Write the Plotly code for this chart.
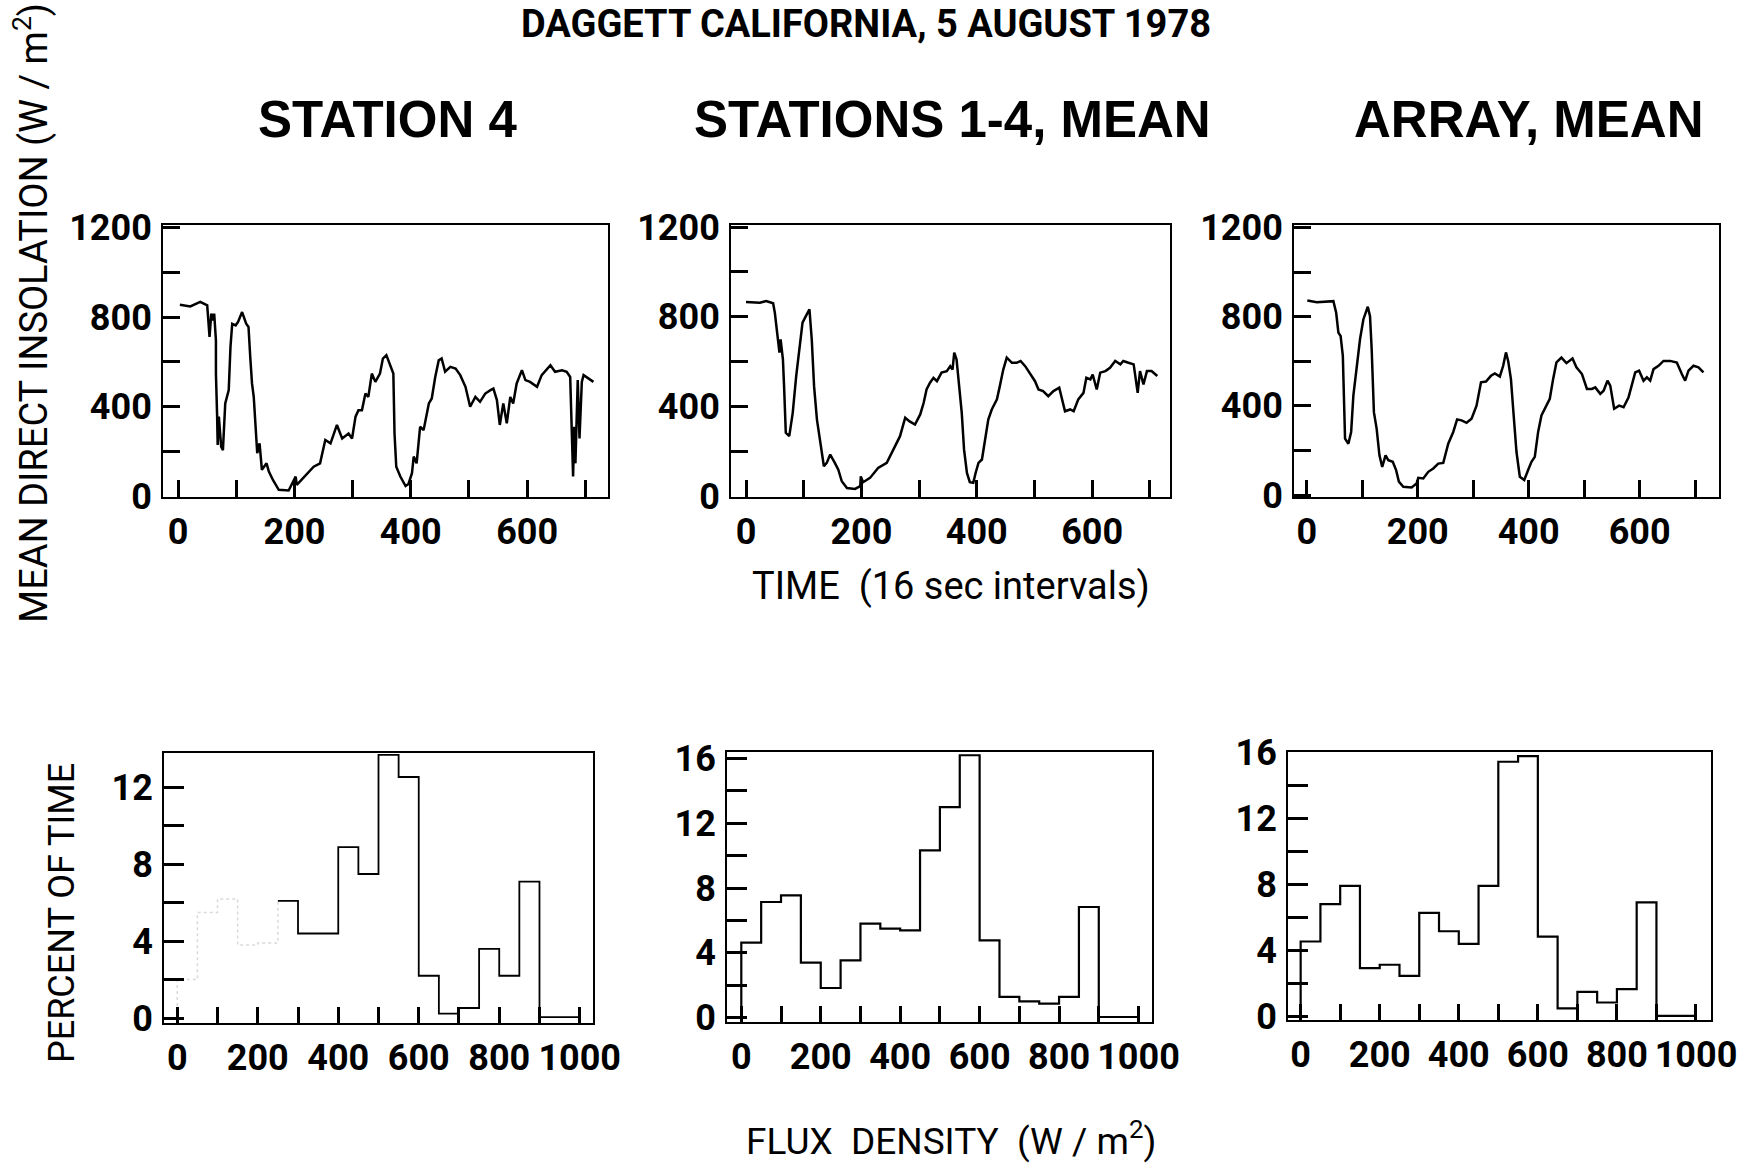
import plotly.graph_objects as go

# ---------------- time series (16 s intervals) ----------------
ST4_T = [3, 21, 38, 50, 54, 57, 60, 62, 65, 65, 67, 68, 70, 74, 77, 81, 87, 90, 93, 99, 103, 110, 117, 121, 124, 127,
         130, 136, 140, 144, 152, 156, 163, 173, 190, 202, 204, 219, 233, 244, 253, 262, 273, 282, 293, 299, 305,
         310, 316, 322, 327, 333, 339, 347, 352, 358, 364, 370, 372, 375, 382, 391, 396, 402, 405, 410, 416, 422,
         431, 436, 442, 448, 453, 459, 468, 477, 485, 494, 502, 511, 519, 528, 537, 542, 548, 553, 559, 565, 571,
         576, 582, 591, 597, 605, 617, 625, 640, 648, 660, 668, 674, 677, 679, 681, 683, 687, 690, 694, 697, 714]
ST4_Q = [855, 847, 867, 852, 711, 815, 785, 815, 696, 548, 363, 230, 356, 222, 207, 415, 474, 667, 770, 763, 778, 822,
         770, 756, 622, 504, 444, 193, 237, 119, 148, 111, 74, 30, 27, 89, 52, 96, 133, 148, 252, 237, 319, 259, 281,
         259, 356, 385, 385, 459, 444, 548, 511, 548, 615, 630, 593, 548, 281, 133, 89, 47, 56, 104, 178, 148, 311,
         296, 415, 437, 533, 607, 615, 556, 578, 570, 541, 489, 400, 444, 422, 459, 474, 481, 430, 319, 415, 326,
         444, 415, 504, 563, 519, 511, 489, 541, 585, 556, 563, 556, 533, 281, 89, 311, 148, 519, 259, 511, 541, 511]

MEAN_T = [0, 24, 35, 47, 50, 54, 58, 60, 64, 66, 69, 75, 81, 87, 92, 98, 104, 110, 114, 118, 123, 128, 135, 140, 146,
          154, 160, 166, 175, 189, 198, 199, 203, 215, 229, 244, 255, 267, 276, 283, 293, 302, 308, 313, 319, 325,
          331, 339, 348, 354, 358, 361, 365, 370, 374, 378, 383, 388, 394, 398, 403, 409, 414, 420, 426, 435, 440,
          446, 452, 461, 469, 476, 484, 492, 501, 507, 515, 524, 533, 543, 547, 553, 562, 568, 576, 585, 590, 597,
          601, 608, 614, 623, 631, 640, 649, 654, 663, 672, 679, 683, 689, 695, 703, 713]
MEAN_Q = [866, 863, 870, 860, 818, 714, 640, 699, 610, 491, 283, 268, 372, 536, 655, 774, 804, 833, 699, 491, 342,
          253, 134, 149, 186, 149, 119, 67, 37, 33, 45, 89, 63, 82, 126, 149, 208, 268, 350, 335, 320, 365, 417, 476,
          506, 528, 513, 551, 558, 580, 565, 640, 610, 491, 372, 208, 104, 63, 60, 104, 149, 164, 238, 342, 387, 432,
          491, 565, 618, 595, 595, 603, 580, 551, 513, 476, 469, 446, 469, 484, 446, 379, 387, 379, 432, 461, 528,
          521, 543, 476, 551, 558, 573, 603, 588, 603, 595, 588, 461, 558, 499, 558, 558, 536]

ARR_T = [1, 18, 48, 53, 57, 61, 65, 69, 75, 80, 84, 90, 96, 102, 110, 114, 117, 121, 126, 131, 136, 142, 147, 155,
         161, 166, 174, 189, 198, 201, 210, 219, 228, 237, 246, 255, 264, 271, 279, 288, 297, 306, 314, 323, 332,
         339, 348, 354, 359, 363, 368, 372, 378, 384, 392, 399, 405, 411, 417, 423, 431, 438, 444, 450, 459, 468,
         479, 486, 496, 505, 514, 520, 529, 535, 542, 547, 554, 563, 571, 580, 592, 599, 607, 613, 619, 625, 634,
         643, 655, 667, 676, 682, 688, 697, 706, 715]
ARR_Q = [873, 865, 870, 818, 729, 714, 625, 253, 230, 283, 446, 565, 699, 788, 845, 803, 654, 372, 297, 178, 126, 178,
         156, 149, 112, 60, 37, 34, 52, 77, 74, 104, 119, 141, 144, 230, 283, 339, 335, 324, 342, 401, 506, 509, 535,
         546, 532, 580, 640, 602, 520, 387, 193, 82, 67, 112, 149, 171, 283, 357, 401, 432, 520, 595, 617, 592, 613,
         573, 543, 476, 476, 483, 454, 468, 513, 491, 387, 401, 394, 439, 550, 558, 513, 528, 513, 565, 580, 602,
         602, 595, 543, 513, 558, 580, 573, 550]

# ---------------- histograms (percent of time per 50 W/m2 bin) ----------------
FLUX_EDGES = [0, 50, 100, 150, 200, 250, 300, 350, 400, 450, 500, 550, 600, 650, 700, 750, 800, 850, 900, 950, 1000]
ST4_PCT = [2.0, 5.5, 6.2, 3.8, 3.9, 6.1, 4.4, 4.4, 8.9, 7.5, 13.7, 12.55, 2.2, 0.23, 0.52, 3.6, 2.2, 7.1, 0.05, 0.05]
MEAN_PCT = [4.63, 7.14, 7.55, 3.40, 1.83, 3.54, 5.80, 5.49, 5.39, 10.33, 13.0, 16.2, 4.77, 1.28, 1.0, 0.86, 1.28,
            6.83, 0.04, 0.04]
ARR_PCT = [4.56, 6.83, 7.93, 2.95, 3.15, 2.47, 6.29, 5.18, 4.42, 7.93, 15.46, 15.8, 4.86, 0.5, 1.5, 0.86, 1.67,
           6.93, 0.05, 0.05]

TITLE = "DAGGETT CALIFORNIA, 5 AUGUST 1978"
PANEL_TITLES = ["STATION 4", "STATIONS 1-4, MEAN", "ARRAY, MEAN"]
Y_TOP_TITLE = "MEAN DIRECT INSOLATION (W / m<sup>2</sup>)"
X_TOP_TITLE = "TIME  (16 sec intervals)"
Y_BOT_TITLE = "PERCENT OF TIME"
X_BOT_TITLE = "FLUX  DENSITY  (W / m<sup>2</sup>)"

W, H = 1762, 1163
NARROW = "Roboto, Liberation Sans, Arial, sans-serif"
WIDE_BOLD = "Liberation Sans, Arial, Helvetica, sans-serif"


def xd(a, b):
    return [a / W, b / W]


def yd(top, bottom):
    return [(H - bottom) / H, (H - top) / H]


def step_xy(edges, vals):
    xs = [edges[0]] + list(edges)
    ys = [0] + list(vals) + [vals[-1]]
    return xs, ys


fig = go.Figure()

top_series = [(ST4_T, ST4_Q), (MEAN_T, MEAN_Q), (ARR_T, ARR_Q)]
for i, (t, q) in enumerate(top_series):
    fig.add_trace(go.Scatter(x=t, y=q, mode="lines", line=dict(color="black", width=2.5),
                             xaxis=f"x{i + 1}", yaxis=f"y{i + 1}", showlegend=False))

hists = [ST4_PCT, MEAN_PCT, ARR_PCT]
for i, vals in enumerate(hists):
    xs, ys = step_xy(FLUX_EDGES, vals)
    if i == 0:
        # faintly reproduced low-flux part of station 4 histogram
        k = 6
        fig.add_trace(go.Scatter(x=xs[:k + 1], y=ys[:k + 1], mode="lines", line_shape="hv",
                                 line=dict(color="rgba(0,0,0,0.15)", width=1.5, dash="dot"),
                                 xaxis="x4", yaxis="y4", showlegend=False))
        fig.add_trace(go.Scatter(x=xs[k:], y=ys[k:], mode="lines", line_shape="hv",
                                 line=dict(color="black", width=1.8),
                                 xaxis="x4", yaxis="y4", showlegend=False))
    else:
        fig.add_trace(go.Scatter(x=xs, y=ys, mode="lines", line_shape="hv",
                                 line=dict(color="black", width=2.2),
                                 xaxis=f"x{i + 4}", yaxis=f"y{i + 4}", showlegend=False))

tickfont = dict(family=NARROW, size=36, color="black", weight="bold")

top_x_dom = [xd(163, 608), xd(731, 1170), xd(1294, 1719)]
top_x_rng = [[-26, 739], [-26, 735], [-23, 743]]
top_y_rng = [[-2, 1210], [-3, 1209], [-9, 1212]]
bot_x_dom = [xd(164, 593), xd(727, 1152), xd(1288, 1711)]
bot_y_dom = [yd(753, 1023), yd(752, 1022), yd(752, 1020)]
bot_x_rng = [[-33, 1033], [-36, 1034], [-32, 1038]]
bot_y_rng = [[-0.26, 13.8], [-0.27, 16.4], [-0.2, 16.05]]

axis_common = dict(showline=True, linecolor="black", linewidth=2, mirror=True, showgrid=False,
                   zeroline=False, ticks="inside", tickcolor="black", tickwidth=2.5, tickfont=tickfont,
                   automargin=False, tickangle=0, ticklabelstandoff=2)

layout = dict(width=W, height=H, margin=dict(l=0, r=0, t=0, b=0, autoexpand=False),
              paper_bgcolor="white", plot_bgcolor="white", showlegend=False)

for i in range(3):
    n = i + 1
    layout[f"xaxis{n}"] = dict(axis_common, domain=top_x_dom[i], range=top_x_rng[i], anchor=f"y{n}",
                               tickmode="array", tickvals=[0, 200, 400, 600], ticklen=17,
                               minor=dict(tickmode="array", tickvals=[100, 300, 500, 700], ticks="inside",
                                          ticklen=17, tickwidth=2.5, tickcolor="black"))
    layout[f"yaxis{n}"] = dict(axis_common, domain=yd(225, 497), range=top_y_rng[i], anchor=f"x{n}",
                               tickmode="array", tickvals=[0, 400, 800, 1200], ticklen=17,
                               minor=dict(tickmode="array", tickvals=[200, 600, 1000], ticks="inside",
                                          ticklen=17, tickwidth=2.5, tickcolor="black"))
for i in range(3):
    n = i + 4
    yt = [0, 4, 8, 12] if i == 0 else [0, 4, 8, 12, 16]
    ym = [2, 6, 10] if i == 0 else [2, 6, 10, 14]
    layout[f"xaxis{n}"] = dict(axis_common, domain=bot_x_dom[i], range=bot_x_rng[i], anchor=f"y{n}",
                               tickmode="array", tickvals=[0, 200, 400, 600, 800, 1000], ticklen=16,
                               minor=dict(tickmode="array", tickvals=[100, 300, 500, 700, 900], ticks="inside",
                                          ticklen=16, tickwidth=2.5, tickcolor="black"))
    layout[f"yaxis{n}"] = dict(axis_common, domain=bot_y_dom[i], range=bot_y_rng[i], anchor=f"x{n}",
                               tickmode="array", tickvals=yt, ticklen=20,
                               minor=dict(tickmode="array", tickvals=ym, ticks="inside",
                                          ticklen=20, tickwidth=2.5, tickcolor="black"))

fig.update_layout(**layout)

ann = []
ann.append(dict(text=TITLE, x=866 / W, y=1.0, xref="paper", yref="paper", showarrow=False,
                font=dict(family=NARROW, size=38, color="black", weight="bold"), xanchor="center", yanchor="top"))
for txt, cx in zip(PANEL_TITLES, [387, 952, 1529]):
    ann.append(dict(text=txt, x=cx / W, y=1 - 120 / H, xref="paper", yref="paper", showarrow=False,
                    font=dict(family=WIDE_BOLD, size=51, color="black", weight="bold"),
                    xanchor="center", yanchor="middle"))
ann.append(dict(text=Y_TOP_TITLE, x=31 / W, y=1 - 313 / H, xref="paper", yref="paper", showarrow=False,
                textangle=-90, font=dict(family=NARROW, size=38, color="black"),
                xanchor="center", yanchor="middle"))
ann.append(dict(text=X_TOP_TITLE, x=951 / W, y=1 - 586 / H, xref="paper", yref="paper", showarrow=False,
                font=dict(family=NARROW, size=38, color="black"), xanchor="center", yanchor="middle"))
ann.append(dict(text=Y_BOT_TITLE, x=62 / W, y=1 - 913 / H, xref="paper", yref="paper", showarrow=False,
                textangle=-90, font=dict(family=NARROW, size=36, color="black"),
                xanchor="center", yanchor="middle"))
ann.append(dict(text=X_BOT_TITLE, x=951 / W, y=1 - 1138 / H, xref="paper", yref="paper", showarrow=False,
                font=dict(family=NARROW, size=37, color="black"), xanchor="center", yanchor="middle"))
fig.update_layout(annotations=ann)

fig.write_html("out.html")
